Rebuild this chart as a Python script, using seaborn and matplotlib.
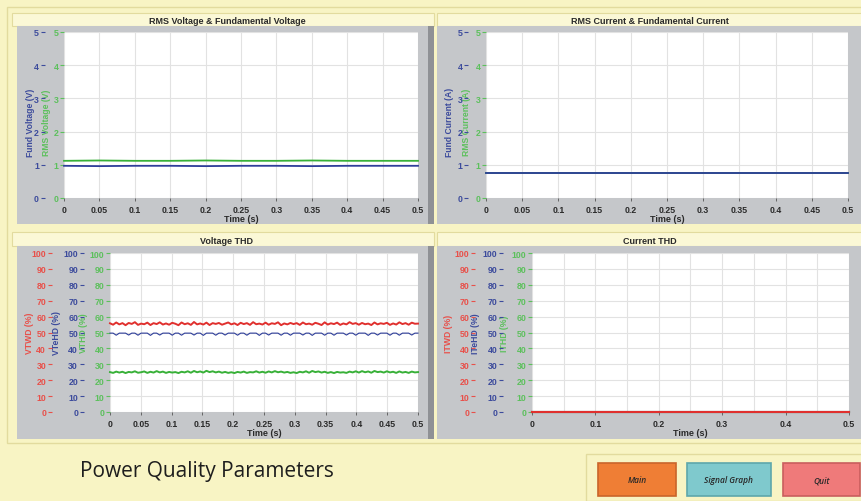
import numpy as np
import pandas as pd
import matplotlib
matplotlib.use("Agg")
import matplotlib.pyplot as plt
from matplotlib.patches import Rectangle
import seaborn as sns

# ---------------- data ----------------
time_top = [0.0, 0.05, 0.1, 0.15, 0.2, 0.25, 0.3, 0.35, 0.4, 0.45, 0.5]
rms_voltage = [1.12, 1.13, 1.12, 1.12, 1.13, 1.12, 1.12, 1.13, 1.12, 1.12, 1.12]
fund_voltage = [0.97, 0.96, 0.97, 0.97, 0.96, 0.97, 0.97, 0.96, 0.97, 0.97, 0.97]
rms_current = [0.75, 0.75, 0.75, 0.75, 0.75, 0.75, 0.75, 0.75, 0.75, 0.75, 0.75]
fund_current = [0.75, 0.75, 0.75, 0.75, 0.75, 0.75, 0.75, 0.75, 0.75, 0.75, 0.75]

vtwd = [55.8, 54.9, 56.3, 55.1, 55.9, 54.6, 56.0, 55.4, 56.5, 54.8,
        55.6, 55.2, 56.2, 54.7, 55.9, 55.3, 56.4, 55.0, 55.7, 54.9,
        56.1, 55.5, 54.6, 56.3, 55.2, 55.8, 54.8, 56.6, 55.1, 55.7,
        55.0, 56.2, 54.7, 55.9, 55.4, 56.0, 54.9, 55.6, 56.3, 55.1,
        55.8, 54.7, 56.1, 55.3, 55.9, 54.8, 56.5, 55.2, 55.6, 55.0,
        56.2, 54.9, 55.8, 55.4, 56.4, 54.6, 55.7, 55.1, 56.0, 55.3,
        55.9, 54.8, 56.3, 55.2, 55.6, 54.9, 56.1, 55.5, 54.7, 56.4,
        55.0, 55.8, 55.3, 56.2, 54.8, 55.7, 55.1, 56.5, 55.4, 55.9,
        54.9, 56.0, 55.2, 55.6, 54.7, 56.3, 55.1, 55.8, 55.4, 56.1,
        54.8, 55.7, 55.0, 56.4, 55.3, 55.9, 54.9, 56.2, 55.5, 55.6]
vtehd = [49.6, 49.6, 48.3, 49.6, 49.6, 49.6, 48.4, 49.6, 49.6, 48.3,
         49.6, 49.6, 49.6, 48.2, 49.6, 49.6, 48.4, 49.6, 49.6, 49.6,
         48.3, 49.6, 49.6, 48.3, 49.6, 49.6, 49.6, 48.4, 49.6, 49.6,
         48.2, 49.6, 49.6, 49.6, 48.3, 49.6, 49.6, 48.4, 49.6, 49.6,
         49.6, 48.3, 49.6, 49.6, 48.3, 49.6, 49.6, 49.6, 48.2, 49.6,
         49.6, 48.4, 49.6, 49.6, 49.6, 48.3, 49.6, 49.6, 48.3, 49.6,
         49.6, 49.6, 48.4, 49.6, 49.6, 48.2, 49.6, 49.6, 49.6, 48.3,
         49.6, 49.6, 48.3, 49.6, 49.6, 49.6, 48.4, 49.6, 49.6, 48.3,
         49.6, 49.6, 49.6, 48.2, 49.6, 49.6, 48.4, 49.6, 49.6, 49.6,
         48.3, 49.6, 49.6, 48.3, 49.6, 49.6, 49.6, 48.4, 49.6, 49.6]
vthd = [25.1, 24.6, 25.4, 24.8, 25.3, 24.5, 25.2, 24.9, 25.6, 24.7,
        25.0, 25.5, 24.6, 25.3, 24.8, 25.7, 24.9, 25.4, 24.6, 25.2,
        24.8, 25.1, 24.5, 25.3, 24.9, 25.6, 24.7, 25.8, 25.0, 25.5,
        24.8, 25.9, 25.1, 25.6, 24.9, 25.4, 24.7, 25.2, 24.6, 25.0,
        24.5, 25.2, 24.8, 25.4, 24.6, 25.1, 24.9, 25.6, 24.8, 25.3,
        24.7, 25.5, 24.9, 25.7, 25.0, 25.4, 24.8, 25.2, 24.6, 25.0,
        24.5, 25.3, 24.9, 25.6, 24.7, 25.8, 25.1, 25.5, 24.8, 25.3,
        24.6, 25.1, 24.5, 25.2, 24.8, 25.0, 24.6, 25.4, 24.9, 25.6,
        24.8, 25.7, 25.0, 25.5, 24.7, 25.8, 25.1, 25.4, 24.8, 25.6,
        24.9, 25.3, 24.6, 25.5, 24.8, 25.2, 24.6, 25.4, 24.9, 25.1]
time_ithd = [0.0, 0.5]
itwd = [0.0, 0.0]
itehd = [0.0, 0.0]
ithd = [0.0, 0.0]

x_ticks_fine = [0, 0.05, 0.1, 0.15, 0.2, 0.25, 0.3, 0.35, 0.4, 0.45, 0.5]
x_labels_fine = ["0", "0.05", "0.1", "0.15", "0.2", "0.25", "0.3", "0.35", "0.4", "0.45", "0.5"]
x_ticks_coarse = [0, 0.1, 0.2, 0.3, 0.4, 0.5]
x_labels_coarse = ["0", "0.1", "0.2", "0.3", "0.4", "0.5"]
y_ticks_amp = [0, 1, 2, 3, 4, 5]
y_ticks_pct = [0, 10, 20, 30, 40, 50, 60, 70, 80, 90, 100]

# ---------------- style ----------------
W, H = 862, 502
BG = "#F8F4C4"
STRIP = "#FBF8D6"
EDGE = "#E2DB9E"
GRAY = "#C5C7CA"
DARK = "#8F9195"
GRID = "#E2E2E2"
RED_T = "#E8504A"
BLUE_T = "#3C4B9C"
GREEN_T = "#5CC05C"
LINE_RED = "#E0302E"
LINE_BLUE = "#2E3E9A"
LINE_GREEN = "#38B038"

NARROW = ["Liberation Sans Narrow", "Liberation Sans", "DejaVu Sans"]
plt.rcParams["font.family"] = NARROW
plt.rcParams["font.weight"] = "bold"

fig = plt.figure(figsize=(W / 100, H / 100), dpi=100, facecolor=BG)


def frac(x0, y0, x1, y1):
    return [x0 / W, 1 - y1 / H, (x1 - x0) / W, (y1 - y0) / H]


def rect(x0, y0, x1, y1, fc, ec="none", lw=0.0, z=-5):
    l, b, w, h = frac(x0, y0, x1, y1)
    fig.patches.append(Rectangle((l, b), w, h, transform=fig.transFigure,
                                 facecolor=fc, edgecolor=ec, linewidth=lw, zorder=z))


# panel frames, title strips and gray panels
rect(7, 8, 862, 444, "none", EDGE, 1.0, -6)
for (x0, x1) in [(12, 434), (437, 862)]:
    rect(x0, 14, x1, 27, STRIP, EDGE, 0.8)
    rect(x0, 233, x1, 247, STRIP, EDGE, 0.8)
rect(17, 27, 434, 225, GRAY)
rect(428, 27, 434, 225, DARK)
rect(437, 27, 862, 225, GRAY)
rect(17, 247, 434, 440, GRAY)
rect(428, 247, 434, 440, DARK)
rect(437, 247, 862, 440, GRAY)

title_kw = dict(fontsize=6.5, fontweight="bold", color="#2A2A2A", ha="center", va="center")
fig.text(227 / W, 1 - 21 / H, "RMS Voltage & Fundamental Voltage", **title_kw)
fig.text(650 / W, 1 - 21 / H, "RMS Current & Fundamental Current", **title_kw)
fig.text(227 / W, 1 - 241 / H, "Voltage THD", **title_kw)
fig.text(650 / W, 1 - 241 / H, "Current THD", **title_kw)

TICK_FS = 6.3


def base_axes(box, xticks, xlabels, xminor, ylim, yticks):
    ax = fig.add_axes(frac(*box))
    ax.set_facecolor("white")
    for s in ax.spines.values():
        s.set_visible(False)
    ax.set_xlim(0, 0.5)
    ax.set_ylim(*ylim)
    ax.set_xticks(xticks)
    ax.set_xticklabels(xlabels)
    if xminor:
        ax.set_xticks(xminor, minor=True)
    ax.set_yticks(yticks)
    ax.grid(True, which="both", color=GRID, linewidth=0.8)
    ax.tick_params(axis="x", which="major", length=2, width=0.6, color="#555555",
                   labelsize=TICK_FS, pad=3, labelcolor="#2A2A2A")
    ax.tick_params(axis="x", which="minor", length=0)
    ax.set_axisbelow(True)
    return ax


def extra_scale(ax, ylim, yticks, outward, color, label, label_x, label_y):
    tw = ax.twinx()
    tw.set_ylim(*ylim)
    tw.set_yticks(yticks)
    tw.yaxis.tick_left()
    tw.yaxis.set_label_position("left")
    for s in tw.spines.values():
        s.set_visible(False)
    tw.spines["left"].set_position(("outward", outward))
    tw.tick_params(axis="y", length=3, width=0.8, color=color, labelcolor=color,
                   labelsize=TICK_FS, pad=1)
    tw.set_ylabel(label, color=color, fontsize=6.2, fontweight="bold")
    tw.yaxis.set_label_coords(label_x, label_y)
    return tw


def finish_inner(ax, color, label, label_x, label_y):
    ax.tick_params(axis="y", length=3, width=0.8, color=color, labelcolor=color,
                   labelsize=TICK_FS, pad=1)
    ax.set_ylabel(label, color=color, fontsize=6.2, fontweight="bold")
    ax.yaxis.set_label_coords(label_x, label_y)
    ax.set_xlabel("Time (s)", fontsize=6.5, fontweight="bold", color="#2A2A2A", labelpad=0)


def draw(ax, x, y, color, lw):
    df = pd.DataFrame({"t": x, "v": y})
    sns.lineplot(data=df, x="t", y="v", ax=ax, color=color, linewidth=lw,
                 estimator=None, legend=False, clip_on=False)


# ---- RMS Voltage & Fundamental Voltage ----
ax1 = base_axes((64, 33, 418, 199), x_ticks_fine, x_labels_fine, None, (0, 5), y_ticks_amp)
draw(ax1, time_top, rms_voltage, LINE_GREEN, 1.3)
draw(ax1, time_top, fund_voltage, LINE_BLUE, 1.3)
finish_inner(ax1, GREEN_T, "RMS Voltage (V)", -0.038, 0.46)
extra_scale(ax1, (0, 5), y_ticks_amp, 14, BLUE_T, "Fund Voltage (V)", -0.082, 0.46)

# ---- RMS Current & Fundamental Current ----
ax2 = base_axes((486, 33, 848, 199), x_ticks_fine, x_labels_fine, None, (0, 5), y_ticks_amp)
draw(ax2, time_top, rms_current, LINE_GREEN, 1.3)
draw(ax2, time_top, fund_current, LINE_BLUE, 1.3)
finish_inner(ax2, GREEN_T, "RMS Current (A)", -0.042, 0.46)
extra_scale(ax2, (0, 5), y_ticks_amp, 13, BLUE_T, "Fund Current (A)", -0.088, 0.46)

# ---- Voltage THD ----
t_v = np.linspace(0, 0.5, len(vtwd))
ax3 = base_axes((110, 254, 418, 413), x_ticks_fine, x_labels_fine, None, (0, 100), y_ticks_pct)
draw(ax3, t_v, vthd, LINE_GREEN, 1.4)
draw(ax3, t_v, vtehd, LINE_BLUE, 0.8)
draw(ax3, t_v, vtwd, LINE_RED, 1.4)
finish_inner(ax3, GREEN_T, "VTHD (%)", -0.072, 0.5)
extra_scale(ax3, (0, 100), y_ticks_pct, 19, BLUE_T, "VTeHD (%)", -0.158, 0.5)
extra_scale(ax3, (0, 100), y_ticks_pct, 42, RED_T, "VTWD (%)", -0.248, 0.5)

# ---- Current THD ----
ax4 = base_axes((532, 254, 849, 413), x_ticks_coarse, x_labels_coarse, x_ticks_fine,
                (0, 100), y_ticks_pct)
draw(ax4, time_ithd, ithd, LINE_GREEN, 1.5)
draw(ax4, time_ithd, itehd, LINE_BLUE, 1.5)
draw(ax4, time_ithd, itwd, LINE_RED, 1.5)
finish_inner(ax4, GREEN_T, "ITHD (%)", -0.074, 0.5)
extra_scale(ax4, (0, 100), y_ticks_pct, 21, BLUE_T, "ITeHD (%)", -0.163, 0.5)
extra_scale(ax4, (0, 100), y_ticks_pct, 41, RED_T, "ITWD (%)", -0.248, 0.5)

# ---- footer: caption and buttons ----
fig.text(80 / W, 1 - 471 / H, "Power Quality Parameters", fontsize=15,
         fontweight="normal", family=["Open Sans", "DejaVu Sans"],
         color="#1E1E1E", ha="left", va="center")
rect(586, 455, 862, 502, "none", EDGE, 1.0, 1)
buttons = [("Main", 598, 676, "#EF7E35", "#C9652B"),
           ("Signal Graph", 687, 771, "#7FC9CD", "#5EA7AB"),
           ("Quit", 783, 860, "#EF7A7A", "#C95E5E")]
for text, x0, x1, fc, ec in buttons:
    rect(x0, 464, x1, 497, fc, ec, 1.2, 2)
    fig.text((x0 + x1) / 2 / W, 1 - 481 / H, text, fontsize=6, style="italic",
             fontweight="semibold", family=["Open Sans", "DejaVu Sans"],
             color="#2A2A2A", ha="center", va="center", zorder=3)

fig.savefig("out.png", dpi=100, facecolor=BG)
